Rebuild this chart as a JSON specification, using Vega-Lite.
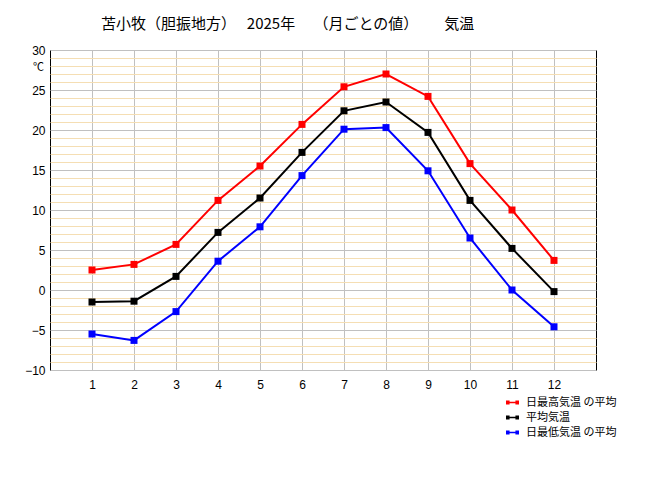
{
  "$schema": "https://vega.github.io/schema/vega-lite/v6.json",
  "width": 546,
  "height": 320,
  "autosize": {"type": "none"},
  "padding": {"left": 50, "top": 50, "right": 50, "bottom": 130},
  "background": "white",
  "title": {
    "text": "苫小牧（胆振地方）　   2025年　   （月ごとの値）　　 気温",
    "anchor": "start",
    "frame": "group",
    "dx": 51,
    "offset": 12,
    "font": "Noto Sans CJK JP",
    "fontSize": 15,
    "fontWeight": "normal",
    "color": "#000000"
  },
  "config": {
    "view": {"stroke": "#000000", "strokeWidth": 1},
    "axis": {
      "domain": false,
      "ticks": false,
      "labelFont": "Liberation Sans",
      "labelFontSize": 12,
      "labelColor": "#000000",
      "gridColor": "#c0c0c0",
      "gridOpacity": 1,
      "gridWidth": 1
    }
  },
  "data": {
    "values": [
      {"month": 1, "series": "日最高気温 の平均", "temp": 2.5},
      {"month": 2, "series": "日最高気温 の平均", "temp": 3.2},
      {"month": 3, "series": "日最高気温 の平均", "temp": 5.7},
      {"month": 4, "series": "日最高気温 の平均", "temp": 11.2},
      {"month": 5, "series": "日最高気温 の平均", "temp": 15.5},
      {"month": 6, "series": "日最高気温 の平均", "temp": 20.7},
      {"month": 7, "series": "日最高気温 の平均", "temp": 25.4},
      {"month": 8, "series": "日最高気温 の平均", "temp": 27.0},
      {"month": 9, "series": "日最高気温 の平均", "temp": 24.2},
      {"month": 10, "series": "日最高気温 の平均", "temp": 15.8},
      {"month": 11, "series": "日最高気温 の平均", "temp": 10.0},
      {"month": 12, "series": "日最高気温 の平均", "temp": 3.7},
      {"month": 1, "series": "平均気温", "temp": -1.5},
      {"month": 2, "series": "平均気温", "temp": -1.4},
      {"month": 3, "series": "平均気温", "temp": 1.7},
      {"month": 4, "series": "平均気温", "temp": 7.2},
      {"month": 5, "series": "平均気温", "temp": 11.5},
      {"month": 6, "series": "平均気温", "temp": 17.2},
      {"month": 7, "series": "平均気温", "temp": 22.4},
      {"month": 8, "series": "平均気温", "temp": 23.5},
      {"month": 9, "series": "平均気温", "temp": 19.7},
      {"month": 10, "series": "平均気温", "temp": 11.2},
      {"month": 11, "series": "平均気温", "temp": 5.2},
      {"month": 12, "series": "平均気温", "temp": -0.2},
      {"month": 1, "series": "日最低気温 の平均", "temp": -5.5},
      {"month": 2, "series": "日最低気温 の平均", "temp": -6.3},
      {"month": 3, "series": "日最低気温 の平均", "temp": -2.7},
      {"month": 4, "series": "日最低気温 の平均", "temp": 3.6},
      {"month": 5, "series": "日最低気温 の平均", "temp": 7.9},
      {"month": 6, "series": "日最低気温 の平均", "temp": 14.3},
      {"month": 7, "series": "日最低気温 の平均", "temp": 20.1},
      {"month": 8, "series": "日最低気温 の平均", "temp": 20.3},
      {"month": 9, "series": "日最低気温 の平均", "temp": 14.9},
      {"month": 10, "series": "日最低気温 の平均", "temp": 6.5},
      {"month": 11, "series": "日最低気温 の平均", "temp": 0.0},
      {"month": 12, "series": "日最低気温 の平均", "temp": -4.6}
    ]
  },
  "encoding": {
    "x": {
      "field": "month",
      "type": "quantitative",
      "scale": {"domain": [0, 13], "nice": false, "zero": false},
      "axis": {
        "title": null,
        "values": [1, 2, 3, 4, 5, 6, 7, 8, 9, 10, 11, 12],
        "labelPadding": 9,
        "labelFlush": false
      }
    },
    "y": {
      "field": "temp",
      "type": "quantitative",
      "scale": {"domain": [-10, 30], "nice": false, "zero": false},
      "axis": {
        "title": "℃",
        "titleAngle": 0,
        "titleX": -12,
        "titleY": 17,
        "titleAlign": "center",
        "titleBaseline": "middle",
        "titleFont": "Noto Sans CJK JP",
        "titleFontSize": 11,
        "titleFontWeight": "normal",
        "titleColor": "#000000",
        "values": [-10, -9, -8, -7, -6, -5, -4, -3, -2, -1, 0, 1, 2, 3, 4, 5, 6, 7, 8, 9, 10, 11, 12, 13, 14, 15, 16, 17, 18, 19, 20, 21, 22, 23, 24, 25, 26, 27, 28, 29, 30],
        "labelExpr": "datum.value % 5 === 0 ? datum.label : ''",
        "labelPadding": 5,
        "labelFlush": false,
        "gridColor": {"condition": {"test": "datum.value % 5 === 0", "value": "#c0c0c0"}, "value": "#f5deb3"}
      }
    },
    "color": {
      "field": "series",
      "type": "nominal",
      "scale": {"domain": ["日最高気温 の平均", "平均気温", "日最低気温 の平均"], "range": ["#ff0000", "#000000", "#0000ff"]},
      "legend": {
        "title": null,
        "orient": "none",
        "legendX": 456,
        "legendY": 346,
        "padding": 0,
        "rowPadding": 3,
        "symbolType": "M-1,-0.3H-0.45V0.3H-1Z M0.45,-0.3H1V0.3H0.45Z M-0.45,-0.12H0.45V0.12H-0.45Z",
        "symbolSize": 169,
        "symbolStrokeWidth": 0,
        "symbolOpacity": 1,
        "labelOffset": 7,
        "labelFont": "Noto Sans CJK JP",
        "labelFontSize": 11,
        "labelColor": "#000000",
        "labelLimit": 200,
        "encode": {
          "symbols": {
            "update": {
              "fill": {"scale": "color", "field": "value"},
              "fillOpacity": {"value": 1},
              "strokeWidth": {"value": 0}
            }
          }
        }
      }
    }
  },
  "layer": [
    {
      "mark": {"type": "line", "strokeWidth": 2}
    },
    {
      "mark": {"type": "point", "shape": "square", "size": 49, "filled": true, "opacity": 1}
    }
  ]
}
